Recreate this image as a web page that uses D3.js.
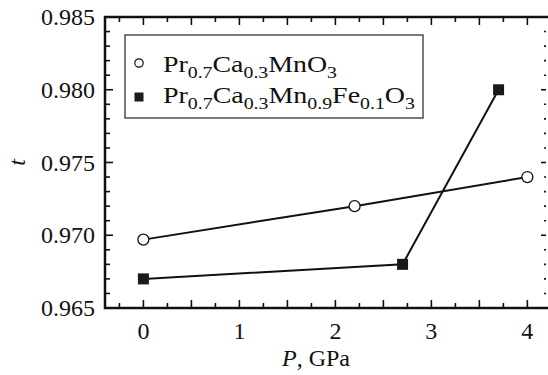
<!DOCTYPE html>
<html>
<head>
<meta charset="utf-8">
<script src="https://cdn.jsdelivr.net/npm/d3@7"></script>
<style>
  html, body { margin: 0; padding: 0; background: #fff; }
</style>
</head>
<body>
<div id="chart"></div>
<script>
// data
const pressure1 = [0, 2.2, 4];
const tolerance1 = [0.9697, 0.9720, 0.9740];
const pressure2 = [0, 2.7, 3.7];
const tolerance2 = [0.9670, 0.9680, 0.9800];
const xTickLabels = [0, 1, 2, 3, 4];
const yTickLabels = [0.965, 0.970, 0.975, 0.980, 0.985];

const width = 548, height = 375;
const serif = '"Liberation Serif", "Times New Roman", Times, "DejaVu Serif", serif';

const svg = d3.select('#chart').append('svg')
  .attr('width', width)
  .attr('height', height)
  .attr('font-family', serif)
  .style('display', 'block');

const x = d3.scaleLinear().domain([-0.4, 4.24]).range([105, 550.4]);
const y = d3.scaleLinear().domain([0.965, 0.985]).range([308, 17]);

const x0 = x.range()[0], x1 = x.range()[1];
const y0 = y.range()[0], y1 = y.range()[1];

// inward ticks on all four sides
const xMajor = d3.range(0, 4.01, 0.5);
const xMinor = d3.range(-0.25, 4.2, 0.5);
const yMajor = yTickLabels;
const yMinor = d3.range(966, 985).filter(v => v % 5 !== 0).map(v => v / 1000);

const ticks = svg.append('g').attr('stroke', '#111').attr('stroke-width', 1.6);
function xTick(v, len) {
  ticks.append('line').attr('x1', x(v)).attr('x2', x(v)).attr('y1', y0).attr('y2', y0 - len);
  ticks.append('line').attr('x1', x(v)).attr('x2', x(v)).attr('y1', y1).attr('y2', y1 + len);
}
function yTick(v, len) {
  ticks.append('line').attr('y1', y(v)).attr('y2', y(v)).attr('x1', x0).attr('x2', x0 + len);
  ticks.append('line').attr('y1', y(v)).attr('y2', y(v)).attr('x1', 546).attr('x2', 546 - len + 3);
}
xMajor.forEach(v => xTick(v, 8));
xMinor.forEach(v => xTick(v, 5));
yMajor.forEach(v => yTick(v, 8));
yMinor.forEach(v => yTick(v, 5));

// frame
svg.append('rect')
  .attr('x', x0).attr('y', y1)
  .attr('width', x1 - x0).attr('height', y0 - y1)
  .attr('fill', 'none').attr('stroke', '#111').attr('stroke-width', 2.5);

// tick labels
svg.append('g').selectAll('text').data(xTickLabels).enter().append('text')
  .attr('x', d => x(d)).attr('y', y0 + 31)
  .attr('text-anchor', 'middle')
  .attr('font-size', 24).attr('fill', '#111')
  .text(d => d);

svg.append('g').selectAll('text').data(yTickLabels).enter().append('text')
  .attr('x', x0 - 10).attr('y', d => y(d) + 8)
  .attr('text-anchor', 'end')
  .attr('font-size', 24).attr('fill', '#111')
  .text(d => d.toFixed(3));

// axis titles
svg.append('text')
  .attr('transform', `translate(25,${(y0 + y1) / 2}) rotate(-90)`)
  .attr('text-anchor', 'middle')
  .attr('font-size', 24).attr('font-style', 'italic').attr('fill', '#111')
  .text('t');

const xt = svg.append('text')
  .attr('x', 316).attr('y', 366)
  .attr('text-anchor', 'middle')
  .attr('font-size', 24).attr('fill', '#111');
xt.append('tspan').attr('font-style', 'italic').text('P');
xt.append('tspan').text(', GPa');

// series
const line = d3.line().x(d => x(d[0])).y(d => y(d[1]));
const s1 = pressure1.map((p, i) => [p, tolerance1[i]]);
const s2 = pressure2.map((p, i) => [p, tolerance2[i]]);

svg.append('path').datum(s1).attr('d', line)
  .attr('fill', 'none').attr('stroke', '#111').attr('stroke-width', 2);
svg.append('path').datum(s2).attr('d', line)
  .attr('fill', 'none').attr('stroke', '#111').attr('stroke-width', 2);

svg.append('g').selectAll('circle').data(s1).enter().append('circle')
  .attr('cx', d => x(d[0])).attr('cy', d => y(d[1])).attr('r', 5.5)
  .attr('fill', '#fff').attr('stroke', '#111').attr('stroke-width', 1.3);

svg.append('g').selectAll('rect').data(s2).enter().append('rect')
  .attr('x', d => x(d[0]) - 5.5).attr('y', d => y(d[1]) - 5.5)
  .attr('width', 11).attr('height', 11)
  .attr('fill', '#1a1a1a');

// legend
const legend = svg.append('g');
legend.append('rect')
  .attr('x', 125).attr('y', 35).attr('width', 298).attr('height', 83)
  .attr('fill', '#fff').attr('stroke', '#333').attr('stroke-width', 1.3);

legend.append('circle').attr('cx', 139).attr('cy', 63).attr('r', 4.2)
  .attr('fill', '#fff').attr('stroke', '#111').attr('stroke-width', 1.2);
legend.append('rect').attr('x', 134.5).attr('y', 92.5).attr('width', 9).attr('height', 9)
  .attr('fill', '#1a1a1a');

function formula(yPos, len, parts) {
  const t = legend.append('text').attr('x', 163).attr('y', yPos)
    .attr('font-size', 24).attr('fill', '#111')
    .attr('textLength', len).attr('lengthAdjust', 'spacingAndGlyphs');
  parts.forEach(([s, sub], i) => {
    const prevSub = i > 0 && parts[i - 1][1];
    let dy = 0;
    if (sub && !prevSub) dy = 6;
    if (!sub && prevSub) dy = -6;
    t.append('tspan').attr('dy', dy).attr('font-size', sub ? 17 : 24).text(s);
  });
}
formula(72, 174, [['Pr'], ['0.7', 1], ['Ca'], ['0.3', 1], ['MnO'], ['3', 1]]);
formula(103, 252, [['Pr'], ['0.7', 1], ['Ca'], ['0.3', 1], ['Mn'], ['0.9', 1], ['Fe'], ['0.1', 1], ['O'], ['3', 1]]);
</script>
</body>
</html>
